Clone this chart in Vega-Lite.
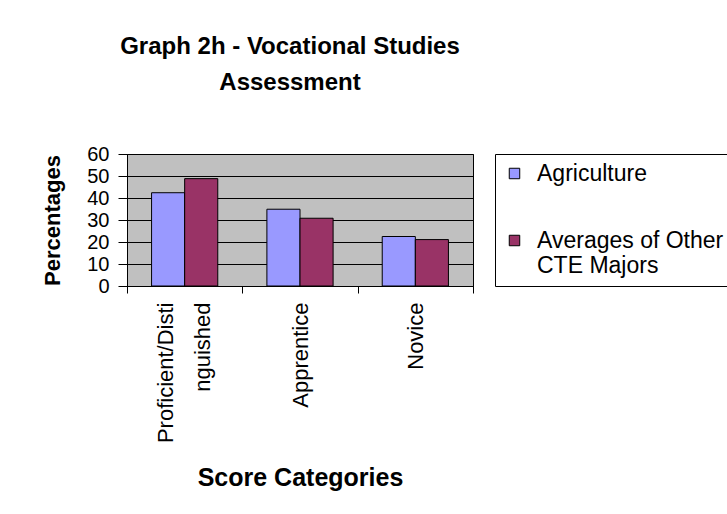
{
  "$schema": "https://vega.github.io/schema/vega-lite/v6.json",
  "width": 346,
  "height": 132,
  "autosize": {"type": "none"},
  "padding": {"left": 127, "top": 154, "right": 254, "bottom": 228},
  "background": "white",
  "title": {
    "text": ["Graph 2h - Vocational Studies", "Assessment"],
    "font": "Liberation Sans",
    "fontSize": 24,
    "fontWeight": "bold",
    "lineHeight": 36,
    "color": "black",
    "anchor": "middle",
    "baseline": "bottom",
    "offset": 25,
    "dx": -10
  },
  "data": {
    "values": [
      {"category": "Proficient/Distinguished", "series": "Agriculture", "value": 42.4},
      {"category": "Proficient/Distinguished", "series": "Averages of Other CTE Majors", "value": 48.8},
      {"category": "Apprentice", "series": "Agriculture", "value": 34.9},
      {"category": "Apprentice", "series": "Averages of Other CTE Majors", "value": 30.8},
      {"category": "Novice", "series": "Agriculture", "value": 22.5},
      {"category": "Novice", "series": "Averages of Other CTE Majors", "value": 21.1}
    ]
  },
  "mark": {"type": "bar", "stroke": "black", "strokeWidth": 1},
  "encoding": {
    "x": {
      "field": "category",
      "type": "nominal",
      "sort": ["Proficient/Distinguished", "Apprentice", "Novice"],
      "scale": {"paddingInner": 0, "paddingOuter": 0},
      "axis": {
        "title": "Score Categories",
        "titleFont": "Liberation Sans",
        "titleFontSize": 25,
        "titleFontWeight": "bold",
        "titleColor": "black",
        "titleY": 191,
        "titleBaseline": "middle",
        "labelAngle": -90,
        "labelAlign": "right",
        "labelBaseline": "middle",
        "labelFont": "Liberation Sans",
        "labelFontSize": 22,
        "labelColor": "black",
        "labelLineHeight": 37,
        "labelLimit": 400,
        "labelOverlap": false,
        "labelPadding": 9,
        "labelOffset": {"condition": {"test": "datum.label == 'Proficient/Distinguished'", "value": -19}, "value": 0},
        "labelExpr": "datum.label == 'Proficient/Distinguished' ? ['Proficient/Disti', 'nguished'] : datum.label",
        "tickBand": "extent",
        "tickSize": 7,
        "tickColor": "black",
        "domainColor": "black"
      }
    },
    "xOffset": {
      "field": "series",
      "type": "nominal",
      "sort": ["Agriculture", "Averages of Other CTE Majors"],
      "scale": {"paddingInner": 0, "paddingOuter": 0.742}
    },
    "y": {
      "field": "value",
      "type": "quantitative",
      "scale": {"domain": [0, 60]},
      "axis": {
        "title": "Percentages",
        "titleFont": "Liberation Sans",
        "titleFontSize": 22,
        "titleFontWeight": "bold",
        "titleColor": "black",
        "titleX": -75,
        "titleY": 66,
        "titleBaseline": "middle",
        "titleAngle": -90,
        "values": [0, 10, 20, 30, 40, 50, 60],
        "grid": true,
        "gridColor": "black",
        "gridOpacity": 1,
        "gridWidth": 1,
        "domainColor": "black",
        "tickColor": "black",
        "tickSize": 9,
        "labelPadding": 9,
        "labelFont": "Liberation Sans",
        "labelFontSize": 20,
        "labelColor": "black"
      }
    },
    "color": {
      "field": "series",
      "type": "nominal",
      "scale": {"domain": ["Agriculture", "Averages of Other CTE Majors"], "range": ["#9999FF", "#993366"]},
      "legend": {
        "orient": "none",
        "legendX": 368,
        "legendY": 0,
        "title": null,
        "symbolType": "square",
        "symbolSize": 110,
        "symbolStrokeColor": "black",
        "symbolStrokeWidth": 1,
        "symbolOpacity": 1,
        "labelFont": "Liberation Sans",
        "labelFontSize": 23,
        "labelColor": "black",
        "labelLimit": 400,
        "labelOffset": 11,
        "labelExpr": "datum.label == 'Averages of Other CTE Majors' ? ['Averages of Other', 'CTE Majors'] : datum.label",
        "strokeColor": "black",
        "fillColor": "white",
        "padding": 8,
        "rowPadding": 43
      }
    }
  },
  "config": {
    "view": {"fill": "#C0C0C0", "stroke": "black", "strokeWidth": 1}
  }
}
